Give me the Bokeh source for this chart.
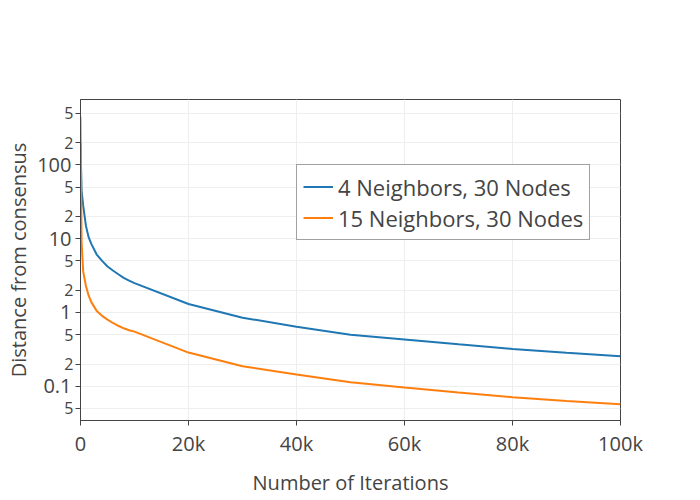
from bokeh.plotting import figure
from bokeh.models import Range1d, FixedTicker, Legend, LegendItem, LogAxis
from bokeh.embed import file_html
from bokeh.resources import INLINE

# ---- data ----
iterations = [0, 200, 500, 1000, 1500, 2000, 3000, 4000, 5000, 6000, 7000,
              8000, 9000, 10000, 20000, 30000, 40000, 50000, 60000, 70000,
              80000, 90000, 100000]
dist_4_neighbors = [200, 45, 28, 15, 10.5, 8.5, 6.1, 5.0, 4.2, 3.7, 3.3,
                    2.95, 2.7, 2.5, 1.30, 0.85, 0.64, 0.50, 0.43, 0.37,
                    0.32, 0.285, 0.255]
dist_15_neighbors = [450, 9, 3.6, 2.3, 1.7, 1.38, 1.05, 0.9, 0.8, 0.72, 0.66,
                     0.61, 0.575, 0.55, 0.286, 0.187, 0.144, 0.113, 0.096,
                     0.082, 0.071, 0.063, 0.057]
series_names = ["4 Neighbors, 30 Nodes", "15 Neighbors, 30 Nodes"]

x_ticks = [0, 20000, 40000, 60000, 80000, 100000]
x_tick_labels = ["0", "20k", "40k", "60k", "80k", "100k"]
y_major_ticks = [0.1, 1, 10, 100]
y_major_labels = ["0.1", "1", "10", "100"]
y_minor_ticks = [0.05, 0.2, 0.5, 2, 5, 20, 50, 200, 500]
y_minor_labels = ["5", "2", "5", "2", "5", "2", "5", "2", "5"]

FONT = "Open Sans"
TXT = "#444444"

p = figure(width=700, height=500, output_backend="svg", toolbar_location=None,
           y_axis_type="log",
           x_range=Range1d(0, 100000), y_range=Range1d(0.0343, 771),
           min_border_left=80, min_border_right=80, min_border_top=99,
           min_border_bottom=80)
p.background_fill_color = "white"
p.border_fill_color = "white"
p.outline_line_color = "#444444"
p.outline_line_width = 1

# x axis
xa = p.xaxis[0]
xa.ticker = FixedTicker(ticks=x_ticks)
xa.major_label_overrides = {t: l for t, l in zip(x_ticks, x_tick_labels)}
xa.axis_label = "Number of Iterations"
xa.axis_line_color = "#444444"
xa.major_tick_line_color = "#444444"
xa.major_tick_in = 0
xa.major_tick_out = 5
xa.minor_tick_line_color = None
xa.major_label_text_font = FONT
xa.major_label_text_color = TXT
xa.major_label_text_font_size = "20px"
xa.major_label_standoff = 4
xa.axis_label_text_font = FONT
xa.axis_label_text_color = TXT
xa.axis_label_text_font_size = "20px"
xa.axis_label_text_font_style = "normal"
xa.axis_label_standoff = 9

# inner y axis: all tick marks + the small "5"/"2" labels
ya = p.yaxis[0]
ya.ticker = FixedTicker(ticks=y_minor_ticks, minor_ticks=y_major_ticks)
ya.major_label_overrides = {t: l for t, l in zip(y_minor_ticks, y_minor_labels)}
ya.axis_line_color = "#444444"
ya.major_tick_line_color = "#444444"
ya.minor_tick_line_color = "#444444"
ya.major_tick_in = 0
ya.major_tick_out = 5
ya.minor_tick_in = 0
ya.minor_tick_out = 5
ya.major_label_text_font = FONT
ya.major_label_text_color = TXT
ya.major_label_text_font_size = "16px"
ya.major_label_standoff = 2

# outer y axis: the large decade labels, pulled in to line up
yb = LogAxis(ticker=FixedTicker(ticks=y_major_ticks))
yb.major_label_overrides = {t: l for t, l in zip(y_major_ticks, y_major_labels)}
yb.axis_line_color = None
yb.major_tick_line_color = None
yb.minor_tick_line_color = None
yb.major_tick_in = 0
yb.major_tick_out = 0
yb.minor_tick_in = 0
yb.minor_tick_out = 0
yb.major_label_text_font = FONT
yb.major_label_text_color = TXT
yb.major_label_text_font_size = "20px"
yb.major_label_standoff = -10
yb.axis_label = "Distance from consensus"
yb.axis_label_text_font = FONT
yb.axis_label_text_color = TXT
yb.axis_label_text_font_size = "20px"
yb.axis_label_text_font_style = "normal"
yb.axis_label_standoff = 2
p.add_layout(yb, "left")

p.xgrid.grid_line_color = "#eeeeee"
p.ygrid.grid_line_color = "#eeeeee"
p.ygrid.minor_grid_line_color = "#eeeeee"

r1 = p.line(iterations, dist_4_neighbors, line_color="#1f77b4", line_width=2)
r2 = p.line(iterations, dist_15_neighbors, line_color="#ff7f0e", line_width=2)

legend = Legend(items=[LegendItem(label=series_names[0], renderers=[r1]),
                       LegendItem(label=series_names[1], renderers=[r2])],
                location=(216, 180), margin=0, padding=6, spacing=0,
                glyph_width=30, glyph_height=31, label_height=31,
                label_standoff=5,
                label_text_font=FONT, label_text_font_size="22px",
                label_text_color=TXT,
                border_line_color="#444444", border_line_width=1,
                background_fill_color="white", background_fill_alpha=1)
p.add_layout(legend)

open("out.html", "w").write(file_html(p, INLINE))
